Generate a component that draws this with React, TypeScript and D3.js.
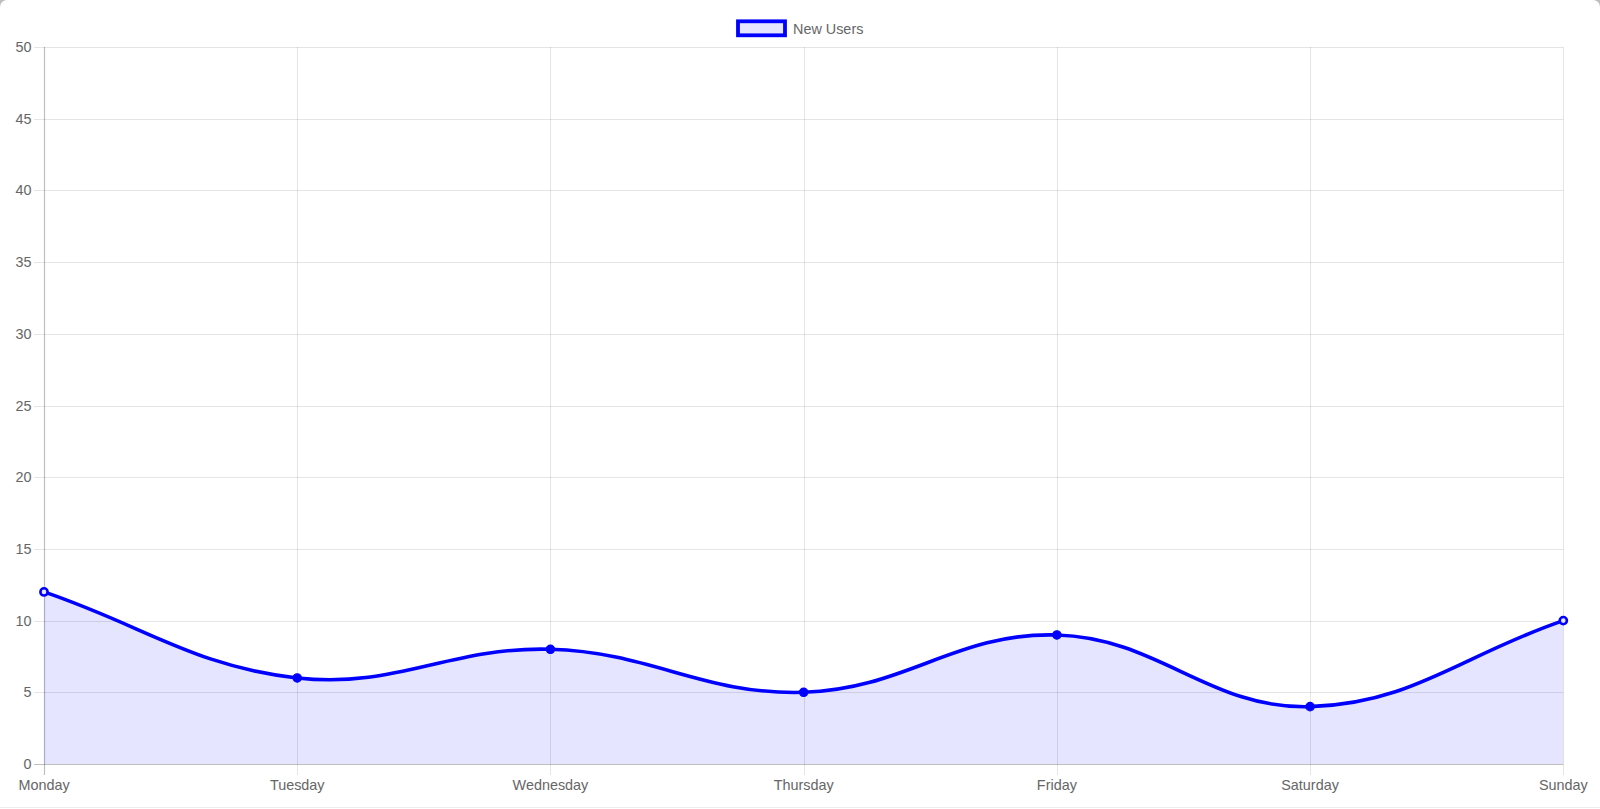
import React from "react";
import * as d3 from "d3";

const categories = ["Monday", "Tuesday", "Wednesday", "Thursday", "Friday", "Saturday", "Sunday"];
const newUsers = [12, 6, 8, 5, 9, 4, 10];
const yTicks = [0, 5, 10, 15, 20, 25, 30, 35, 40, 45, 50];
const seriesName = "New Users";

const W = 1600;
const H = 809;
const left = 44;
const right = 1563.3;
const top = 47;
const bottom = 764;
const FONT = "'Liberation Sans', Arial, Helvetica, sans-serif";

// Chart.js style spline (tension 0.4)
function chartJsPath(pts: [number, number][], tension = 0.4): string {
  const cps = pts.map((p, i) => {
    const prev = pts[i - 1] || p;
    const next = pts[i + 1] || p;
    const d01 = Math.hypot(p[0] - prev[0], p[1] - prev[1]);
    const d12 = Math.hypot(next[0] - p[0], next[1] - p[1]);
    let s01 = d01 / (d01 + d12);
    let s12 = d12 / (d01 + d12);
    if (isNaN(s01)) s01 = 0;
    if (isNaN(s12)) s12 = 0;
    const fa = tension * s01;
    const fb = tension * s12;
    const c1: [number, number] = [p[0] - fa * (next[0] - prev[0]), p[1] - fa * (next[1] - prev[1])];
    const c2: [number, number] = [p[0] + fb * (next[0] - prev[0]), p[1] + fb * (next[1] - prev[1])];
    return { c1, c2 };
  });
  let d = `M${pts[0][0]},${pts[0][1]}`;
  for (let i = 1; i < pts.length; i++) {
    const a = cps[i - 1].c2;
    const b = cps[i].c1;
    d += `C${a[0]},${a[1]},${b[0]},${b[1]},${pts[i][0]},${pts[i][1]}`;
  }
  return d;
}

export default function App() {
  const x = d3.scalePoint<string>().domain(categories).range([left, right]);
  const y = d3.scaleLinear().domain([0, 50]).range([bottom, top]);
  const pts: [number, number][] = categories.map((c, i) => [x(c) as number, y(newUsers[i])]);
  const linePath = chartJsPath(pts);
  const areaPath = linePath + `L${pts[pts.length - 1][0]},${y(0)}L${pts[0][0]},${y(0)}Z`;
  const grid = "rgba(0,0,0,0.1)";
  const last = pts.length - 1;

  return (
    <svg
      width={W}
      height={H}
      style={{ position: "absolute", left: 0, top: 0, display: "block" }}
      fontFamily={FONT}
    >
      <rect x={0} y={0} width={W} height={H} fill="#bdbdbd" />
      <rect x={0} y={0} width={W} height={H + 20} rx={7} fill="#ffffff" />
      <line x1={0} x2={W} y1={807.5} y2={807.5} stroke="#eeeeee" />

      {/* horizontal grid */}
      {yTicks.map((t) => (
        <g key={"y" + t}>
          <line
            x1={34}
            x2={right}
            y1={Math.round(y(t)) + 0.5}
            y2={Math.round(y(t)) + 0.5}
            stroke={t === 0 ? "rgba(0,0,0,0.25)" : grid}
            strokeWidth={t === 0 ? 1.2 : 1}
          />
          <text
            x={31.5}
            y={y(t)}
            textAnchor="end"
            dominantBaseline="central"
            fontSize={14.4}
            fill="#666"
          >
            {t}
          </text>
        </g>
      ))}

      {/* vertical grid */}
      {categories.map((c, i) => (
        <g key={c}>
          <line
            x1={Math.round(x(c) as number) + 0.5}
            x2={Math.round(x(c) as number) + 0.5}
            y1={top}
            y2={775}
            stroke={i === 0 ? "rgba(0,0,0,0.25)" : grid}
            strokeWidth={i === 0 ? 1.2 : 1}
          />
          <text
            x={x(c) as number}
            y={785}
            textAnchor="middle"
            dominantBaseline="central"
            fontSize={14.4}
            fill="#666"
          >
            {c}
          </text>
        </g>
      ))}

      {/* area + line */}
      <path d={areaPath} fill="rgba(0,0,255,0.1)" stroke="none" />
      <path d={linePath} fill="none" stroke="#0000ff" strokeWidth={3.6} />
      {pts.map((p, i) => {
        const edge = i === 0 || i === last;
        return (
          <circle
            key={"p" + i}
            cx={p[0]}
            cy={p[1]}
            r={edge ? 3.6 : 4.2}
            fill={edge ? "rgba(230,230,255,1)" : "#0000ff"}
            stroke="#0000ff"
            strokeWidth={edge ? 2.6 : 1.2}
          />
        );
      })}

      {/* legend */}
      <rect x={738} y={21.3} width={47} height={14} fill="rgba(0,0,255,0.1)" stroke="#0000ff" strokeWidth={3.8} />
      <text x={793} y={28.5} dominantBaseline="central" fontSize={14.4} fill="#666">
        {seriesName}
      </text>
    </svg>
  );
}
